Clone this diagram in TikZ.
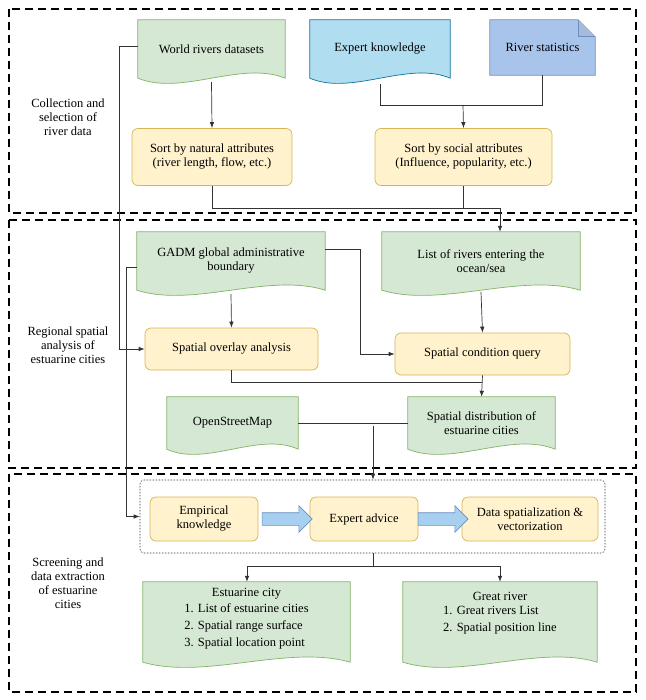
\documentclass[tikz,border=0pt]{standalone}
\usepackage{fontspec}
\setmainfont{Liberation Serif}
\usetikzlibrary{calc,backgrounds,arrows.meta,shapes.arrows}
\definecolor{gf}{HTML}{D5E8D4}\definecolor{gs}{HTML}{82B366}
\definecolor{yf}{HTML}{FFF2CC}\definecolor{ys}{HTML}{D6B656}
\definecolor{bf}{HTML}{B1DDF0}\definecolor{bs}{HTML}{10739E}
\definecolor{lf}{HTML}{A9C4EB}\definecolor{ls}{HTML}{6C8EBF}
\definecolor{af}{HTML}{A7CFEF}\definecolor{as}{HTML}{6C8EBF}
\newcommand\mydoc[3]{%
  \begin{scope}[on background layer]
  \path[fill=#2,draw=#3,line width=0.7pt] (#1.north west) -- (#1.north east) -- (#1.south east)
   .. controls ($(#1.south east)!0.3!(#1.south west)+(0,-18)$) and ($(#1.south west)!0.3!(#1.south east)+(0,18)$) .. (#1.south west) -- cycle;
  \end{scope}}
\tikzset{
  x=1pt,y=-1pt,
  txt/.style={font=\fontsize{12.5}{14}\selectfont,align=center,inner sep=0pt},
  doc/.style={txt,minimum width=#1},
  rbox/.style={txt,draw=ys,fill=yf,rounded corners=6pt,line width=0.7pt},
  sect/.style={draw=black,line width=1.1pt,dash pattern=on 8pt off 5pt},
  con/.style={draw=black!80,line width=0.7pt},
  arr/.style={con,-{Latex[length=6pt,width=4.5pt]}},
  barr/.style={single arrow,draw=as,fill=af,minimum height=50pt,single arrow head extend=7pt,inner sep=0pt,line width=0.6pt},
}
\begin{document}
\begin{tikzpicture}
\useasboundingbox (0,0) rectangle (645,700);
% sections
\draw[sect] (9,9) rectangle (636,213);
\draw[sect] (9,220) rectangle (636,468);
\draw[sect] (9,474) rectangle (636,692);
\node[txt] (l1) at (68,117) {Collection and\\selection of\\river data};
\node[txt] (l2) at (68,345) {Regional spatial\\analysis of\\estuarine cities};
\node[txt] (l3) at (68,583) {Screening and\\data extraction\\of estuarine\\cities};
% row 1
\node[doc=147,minimum height=58] (w) at (211.5,49) {World rivers datasets};
\mydoc{w}{gf}{gs}
\node[doc=140,minimum height=58] (ek) at (380,49) {Expert knowledge};
\mydoc{ek}{bf}{bs}
\node[txt,minimum width=105,minimum height=55] (rs) at (542.5,47.5) {River statistics};
\begin{scope}[on background layer]
\path[fill=lf,draw=ls,line width=0.7pt] (rs.north west) -- ($(rs.north east)+(-17,0)$) -- ($(rs.north east)+(0,17)$) -- (rs.south east) -- (rs.south west) -- cycle;
\path[fill=ls!60,draw=ls,line width=0.7pt] ($(rs.north east)+(-17,0)$) -- ($(rs.north east)+(-17,17)$) -- ($(rs.north east)+(0,17)$);
\end{scope}
\node[rbox,minimum width=160,minimum height=57] (nat) at (212,157) {Sort by natural attributes\\(river length, flow, etc.)};
\node[rbox,minimum width=177,minimum height=57] (soc) at (463.5,157) {Sort by social attributes\\(Influence, popularity, etc.)};
% row 2
\node[doc=188,minimum height=58] (g) at (231,261) {GADM global administrative\\boundary};
\mydoc{g}{gf}{gs}
\node[doc=198,minimum height=58] (lr) at (481,261) {List of rivers entering the\\ocean/sea};
\mydoc{lr}{gf}{gs}
\node[rbox,minimum width=173,minimum height=42] (ov) at (231.5,349) {Spatial overlay analysis};
\node[rbox,minimum width=175,minimum height=42] (cq) at (482.5,354) {Spatial condition query};
\node[doc=131,minimum height=52] (osm) at (232.5,423) {OpenStreetMap};
\mydoc{osm}{gf}{gs}
\node[doc=147,minimum height=52] (sd) at (481.5,423) {Spatial distribution of\\estuarine cities};
\mydoc{sd}{gf}{gs}
% row 3
\node[draw=black!80,dash pattern=on 1.5pt off 1.5pt,rounded corners=4pt,minimum width=465,minimum height=73,line width=0.6pt] (grp) at (372.5,516.5) {};
\node[rbox,minimum width=108,minimum height=44] (em) at (204,519) {Empirical\\knowledge};
\node[rbox,minimum width=108,minimum height=44] (ea) at (364,519) {Expert advice};
\node[rbox,minimum width=136,minimum height=44] (ds) at (530,519) {Data spatialization \&\\vectorization};
\node[barr] (ba1) at ($(em.east)!0.5!(ea.west)$) {\rule{0pt}{12pt}};
\node[barr] (ba2) at ($(ea.east)!0.5!(ds.west)$) {\rule{0pt}{12pt}};
\node[doc=207,minimum height=80] (ec) at (246.5,622) {Estuarine city\\[3pt]\begin{tabular}{@{}l@{}}1. List of estuarine cities\\[3pt]2. Spatial range surface\\[3pt]3. Spatial location point\end{tabular}\\[4pt]};
\mydoc{ec}{gf}{gs}
\node[doc=194,minimum height=80] (gr) at (500,622) {Great river\\[3pt]\begin{tabular}{@{}l@{}}1. Great rivers List\\[3pt]2. Spatial position line\end{tabular}\\[14pt]};
\mydoc{gr}{gf}{gs}
% connectors
\draw[arr] (w.south) ++(0,4) -- (nat.north);
\coordinate (j1) at (463,105);
\draw[con] ($(ek.south)+(0,6)$) |- (j1);
\draw[con] (rs.south) |- (j1);
\draw[arr] (j1) -- (soc.north);
\coordinate (j2) at (500,208);
\draw[con] (nat.south) |- (j2);
\draw[con] (soc.south) -- (soc.south |- j2);
\draw[arr] (j2) -- (lr.north -| j2);
\draw[arr] ($(w.north west)+(0,27)$) -- ++(-18,0) |- (ov.west);
\draw[arr] ($(g.north west)+(0,36)$) -- ++(-10,0) |- (grp.west);
\draw[arr] ($(g.north east)+(0,18)$) -- ++(35,0) |- (cq.west);
\draw[arr] (g.south) ++(0,4) -- (ov.north);
\draw[arr] (lr.south) ++(0,2) -- (cq.north);
\coordinate (j3) at (482,382);
\draw[con] (ov.south) |- (j3);
\draw[arr] (cq.south) -- (sd.north);
\coordinate (j4) at (373,426);
\draw[con] (osm.east) -- (sd.west);
\draw[arr] (j4) -- (grp.north -| j4);
\coordinate (j5) at (373,566);
\draw[con] (grp.south -| j5) -- (j5);
\draw[arr] (j5) -| (ec.north -| 247,0);
\draw[arr] (j5) -| (gr.north);
\end{tikzpicture}
\end{document}
